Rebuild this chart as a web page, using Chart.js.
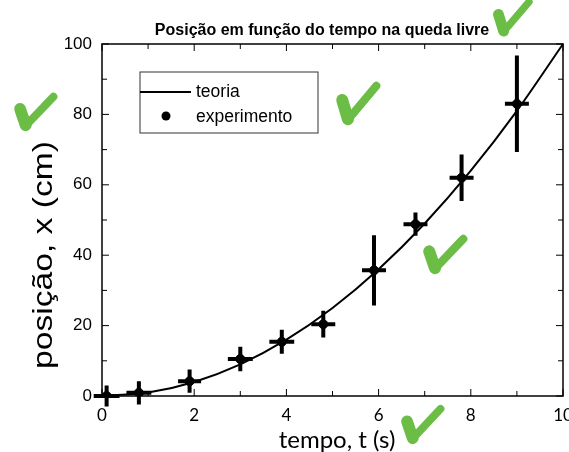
<!DOCTYPE html>
<html>
<head>
<meta charset="utf-8">
<script src="https://cdn.jsdelivr.net/npm/chart.js@4"></script>
<style>
  html, body { margin: 0; padding: 0; background: #fff; }
  #wrap { width: 569px; height: 452px; }
</style>
</head>
<body>
<div id="wrap"><canvas id="chart" width="569" height="452"></canvas></div>
<script>
// experiment: time (s), position (cm) and their uncertainties
const tempo = [0.1, 0.8, 1.9, 3.0, 3.9, 4.8, 5.9, 6.8, 7.8, 9.0];
const posicao = [0, 0.9, 4.2, 10.5, 15.4, 20.4, 35.7, 48.8, 62, 83];
const erroT = [0.28, 0.27, 0.25, 0.27, 0.27, 0.26, 0.26, 0.26, 0.26, 0.26];
const erroX = [3, 3.3, 3.3, 3.5, 3.4, 3.8, 10, 3.3, 6.6, 13.7];

// theory curve, read at whole seconds
const tempoTeoria = [0, 1, 2, 3, 4, 5, 6, 7, 8, 9, 10];
const posicaoTeoria = [0, 1, 4, 9, 16, 25, 36, 49, 64, 81, 100];

const xTicks = [0, 2, 4, 6, 8, 10];
const yTicks = [0, 20, 40, 60, 80, 100];

const GREEN = '#6cbd45';

// the green "correct" marks someone put on the figure: [left, top, width, height]
const checks = [[13, 90, 47, 42], [335, 78, 48, 49], [422, 232, 48, 43], [492, -5, 43, 43], [400, 402, 47, 43]];

function drawCheck(ctx, [x0, y0, w, h]) {
  ctx.save();
  ctx.strokeStyle = GREEN;
  ctx.lineCap = 'round';
  ctx.lineJoin = 'round';
  // long stroke
  ctx.beginPath();
  ctx.moveTo(x0 + 0.28 * w, y0 + 0.84 * h);
  ctx.lineTo(x0 + 0.86 * w, y0 + 0.16 * h);
  ctx.lineWidth = 0.17 * w;
  ctx.stroke();
  // short chunky stroke on the left
  ctx.beginPath();
  ctx.moveTo(x0 + 0.15 * w, y0 + 0.45 * h);
  ctx.lineTo(x0 + 0.27 * w, y0 + 0.84 * h);
  ctx.lineWidth = 0.25 * w;
  ctx.stroke();
  ctx.restore();
}

// error bars, box, inward ticks, legend, titles and the checkmarks
const extras = {
  id: 'extras',
  afterDatasetsDraw(chart) {
    const { ctx, chartArea: a, scales: { x, y } } = chart;
    ctx.save();

    // error bars
    ctx.strokeStyle = '#000';
    ctx.lineWidth = 4;
    ctx.lineCap = 'butt';
    tempo.forEach((t, i) => {
      const px = x.getPixelForValue(t), py = y.getPixelForValue(posicao[i]);
      ctx.beginPath();
      ctx.moveTo(px, y.getPixelForValue(posicao[i] - erroX[i]));
      ctx.lineTo(px, y.getPixelForValue(posicao[i] + erroX[i]));
      ctx.moveTo(x.getPixelForValue(t - erroT[i]), py);
      ctx.lineTo(x.getPixelForValue(t + erroT[i]), py);
      ctx.stroke();
    });

    // frame
    ctx.lineWidth = 1.5;
    ctx.strokeRect(a.left, a.top, a.right - a.left, a.bottom - a.top);

    // inward ticks on all four sides
    ctx.lineWidth = 1;
    ctx.beginPath();
    for (let v = 0; v <= 10; v++) {
      const px = x.getPixelForValue(v);
      const len = v % 2 === 0 ? 7 : 5;
      ctx.moveTo(px, a.bottom); ctx.lineTo(px, a.bottom - len);
      ctx.moveTo(px, a.top); ctx.lineTo(px, a.top + len);
    }
    for (let v = 0; v <= 100; v += 10) {
      const py = y.getPixelForValue(v);
      const len = v % 20 === 0 ? 7 : 5;
      ctx.moveTo(a.left, py); ctx.lineTo(a.left + len, py);
      ctx.moveTo(a.right, py); ctx.lineTo(a.right - len, py);
    }
    ctx.stroke();

    // legend
    const ds = chart.data.datasets;
    ctx.lineWidth = 1;
    ctx.strokeStyle = '#333';
    ctx.strokeRect(140, 72, 178, 61);
    ctx.strokeStyle = '#000';
    ctx.lineWidth = 2;
    ctx.beginPath();
    ctx.moveTo(140, 92); ctx.lineTo(191, 92);
    ctx.stroke();
    ctx.beginPath();
    ctx.arc(166, 116, 4.5, 0, Math.PI * 2);
    ctx.fillStyle = '#000';
    ctx.fill();
    ctx.font = '17.5px "Liberation Sans", Arial, sans-serif';
    ctx.textAlign = 'left';
    ctx.textBaseline = 'middle';
    ctx.fillText(ds[0].label, 196, 92);
    ctx.fillText(ds[1].label, 196, 117);

    // titles
    ctx.font = 'bold 16px "Liberation Sans", Arial, sans-serif';
    ctx.textAlign = 'center';
    ctx.fillText('Posição em função do tempo na queda livre', 322, 31);
    ctx.font = '24px Lato, sans-serif';
    ctx.fillText('tempo, t (s)', 337, 440);
    ctx.save();
    ctx.translate(44, 255);
    ctx.rotate(-Math.PI / 2);
    ctx.scale(1.2, 1);
    ctx.font = '28px "Liberation Sans", Arial, sans-serif';
    ctx.fillText('posição, x (cm)', 0, 0);
    ctx.restore();

    ctx.restore();

    checks.forEach(c => drawCheck(ctx, c));
  }
};

new Chart(document.getElementById('chart'), {
  data: {
    datasets: [
      {
        type: 'line',
        label: 'teoria',
        data: tempoTeoria.map((t, i) => ({ x: t, y: posicaoTeoria[i] })),
        borderColor: '#000',
        borderWidth: 2,
        pointRadius: 0,
        cubicInterpolationMode: 'monotone',
        clip: false
      },
      {
        type: 'scatter',
        label: 'experimento',
        data: tempo.map((t, i) => ({ x: t, y: posicao[i] })),
        backgroundColor: '#000',
        borderColor: '#000',
        pointRadius: 4.5
      }
    ]
  },
  options: {
    responsive: false,
    animation: false,
    layout: { padding: { top: 44, right: 6, left: 0, bottom: 0 } },
    plugins: { legend: { display: false }, tooltip: { enabled: false } },
    scales: {
      x: {
        type: 'linear',
        min: 0,
        max: 10,
        afterBuildTicks: s => { s.ticks = xTicks.map(v => ({ value: v })); },
        afterFit: s => { s.height = 56; s.paddingRight = 0; s.paddingLeft = 0; },
        grid: { display: false, drawTicks: false },
        border: { display: false },
        ticks: { color: '#000', padding: 9, maxRotation: 0, font: { family: 'Lato', size: 17 } }
      },
      y: {
        min: 0,
        max: 100,
        afterBuildTicks: s => { s.ticks = yTicks.map(v => ({ value: v })); },
        afterFit: s => { s.width = 102; s.paddingTop = 0; s.paddingBottom = 0; },
        grid: { display: false, drawTicks: false },
        border: { display: false },
        ticks: { color: '#000', padding: 10, font: { family: 'Liberation Sans', size: 17 } }
      }
    }
  },
  plugins: [extras]
});
</script>
</body>
</html>
